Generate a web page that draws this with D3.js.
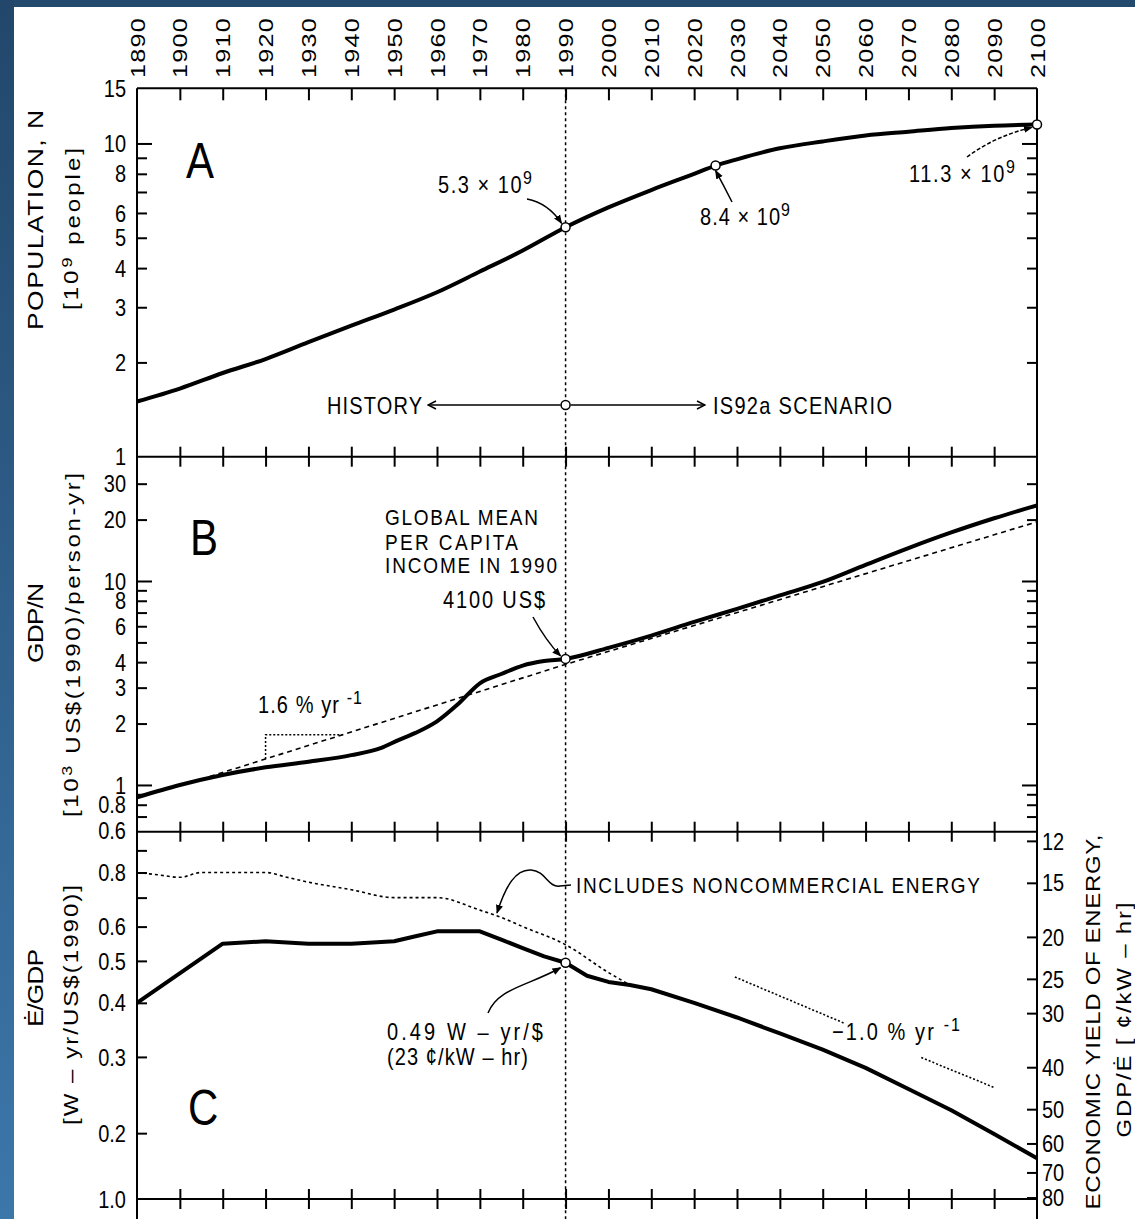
<!DOCTYPE html>
<html>
<head>
<meta charset="utf-8">
<script src="https://cdn.jsdelivr.net/npm/d3@7"></script>
<style>
html, body { margin: 0; padding: 0; background: #fff; }
svg { display: block; }
text { font-family: "Liberation Sans", Arial, sans-serif; fill: #000; }
</style>
</head>
<body>
<script>
const width = 1135;
const height = 1219;
const SY = 1.2; // the original figure is stretched vertically

// ---- data ----
const yearLabels = [1890, 1900, 1910, 1920, 1930, 1940, 1950, 1960, 1970, 1980, 1990,
    2000, 2010, 2020, 2030, 2040, 2050, 2060, 2070, 2080, 2090, 2100];

// A: population, 10^9 people
const popYears  = [1890, 1900, 1910, 1920, 1930, 1940, 1950, 1960, 1970, 1980, 1990, 2000,
    2010, 2020, 2025, 2030, 2040, 2050, 2060, 2070, 2080, 2090, 2100];
const popValues = [1.5, 1.65, 1.85, 2.05, 2.32, 2.62, 2.95, 3.35, 3.9, 4.55, 5.4, 6.25,
    7.1, 8.0, 8.5, 8.9, 9.65, 10.15, 10.6, 10.9, 11.2, 11.4, 11.5];
const popMarks = [1990, 2025, 2100];

// B: GDP per capita, 10^3 US$(1990)/person-yr
const gdpYears  = [1890, 1900, 1910, 1920, 1930, 1940, 1947, 1951, 1955, 1960, 1965, 1970,
    1975, 1980, 1985, 1990, 2000, 2010, 2020, 2030, 2040, 2050, 2060, 2070, 2080, 2090, 2100];
const gdpValues = [0.87, 1.0, 1.12, 1.22, 1.3, 1.4, 1.52, 1.66, 1.8, 2.05, 2.5, 3.15,
    3.5, 3.85, 4.05, 4.15, 4.7, 5.4, 6.3, 7.3, 8.5, 9.9, 12.0, 14.5, 17.3, 20.3, 23.5];
const gdpTrendYears  = [1907, 1990, 2100];
const gdpTrendValues = [1.1, 3.9, 19.5];
const slopeYears = [1920, 1938];

// C: energy intensity, W-yr/US$(1990)
const eYears  = [1890, 1910, 1920, 1930, 1940, 1950, 1955, 1960, 1970, 1975, 1980, 1985,
    1990, 1995, 2000, 2005, 2010, 2020, 2030, 2040, 2050, 2060, 2070, 2080, 2090, 2100];
const eValues = [0.40, 0.548, 0.555, 0.548, 0.548, 0.555, 0.57, 0.585, 0.585, 0.56, 0.535, 0.512,
    0.495, 0.462, 0.447, 0.44, 0.43, 0.40, 0.37, 0.34, 0.312, 0.283, 0.253, 0.226, 0.199, 0.175];
const ncYears  = [1890, 1895, 1900, 1905, 1910, 1920, 1925, 1930, 1940, 1950, 1960, 1970,
    1975, 1980, 1990, 2000, 2005];
const ncValues = [0.80, 0.79, 0.78, 0.80, 0.80, 0.80, 0.78, 0.76, 0.73, 0.70, 0.70, 0.655,
    0.63, 0.60, 0.545, 0.47, 0.44];
const cTrend1 = [[2029.5, 0.459], [2055, 0.359]];
const cTrend2 = [[2073, 0.299], [2090, 0.255]];

// tick values and labels
const popTicks = [2, 3, 4, 5, 6, 7, 8, 9, 10];
const popLabels = [1, 2, 3, 4, 5, 6, 8, 10, 15];
const gdpTicks = [0.7, 0.8, 0.9, 1, 2, 3, 4, 5, 6, 7, 8, 9, 10, 20, 30];
const gdpLabels = [0.6, 0.8, 1, 2, 3, 4, 6, 8, 10, 20, 30];
const eTicks = [0.2, 0.3, 0.4, 0.5, 0.6, 0.7, 0.8, 0.9];
const eLabels = [0.2, 0.3, 0.4, 0.5, 0.6, 0.8];
const yieldTicks = [12, 15, 20, 25, 30, 40, 50, 60, 70, 80];
const K = 11.36; // cents/kW-hr per (W-yr/$)^-1

// ---- scales ----
const left = 137, right = 1037;
const yTop = 88.3, yAB = 456.7, yBC = 831.7, yBot = 1199;
const x = d3.scaleLinear().domain([1890, 2100]).range([left, right]);
const yA = d3.scaleLog().domain([1, 15]).range([yAB, yTop]);
const yB = d3.scaleLog().domain([0.59, 40.68]).range([yBC, yAB]);
const yC = d3.scaleLog().domain([0.994, 0.1409]).range([yBC, yBot]);
const yR = d3.scaleLog().domain([K / 0.994, K / 0.1409]).range([yBC, yBot]);

const svg = d3.select("body").append("svg")
    .attr("width", width)
    .attr("height", height);

// background
const defs = svg.append("defs");
const grad = defs.append("linearGradient")
    .attr("id", "bandGrad").attr("x1", 0).attr("y1", 0).attr("x2", 0).attr("y2", 1);
grad.append("stop").attr("offset", "0%").attr("stop-color", "#22476b");
grad.append("stop").attr("offset", "100%").attr("stop-color", "#3c77aa");
svg.append("rect").attr("width", width).attr("height", height).attr("fill", "#fff");
svg.append("rect").attr("width", width).attr("height", 7).attr("fill", "#23496c");
svg.append("rect").attr("width", 14).attr("height", height).attr("fill", "url(#bandGrad)");

defs.append("marker").attr("id", "tri")
    .attr("viewBox", "0 0 10 10").attr("refX", 9).attr("refY", 5)
    .attr("markerWidth", 9).attr("markerHeight", 9).attr("orient", "auto")
    .attr("markerUnits", "userSpaceOnUse")
    .append("path").attr("d", "M0,1 L10,5 L0,9 Z").attr("fill", "#000");
defs.append("marker").attr("id", "vee")
    .attr("viewBox", "0 0 10 10").attr("refX", 9).attr("refY", 5)
    .attr("markerWidth", 10).attr("markerHeight", 10).attr("orient", "auto")
    .attr("markerUnits", "userSpaceOnUse")
    .append("path").attr("d", "M1,1 L9,5 L1,9").attr("fill", "none")
    .attr("stroke", "#000").attr("stroke-width", 1.5);

// ---- frame ----
const frame = svg.append("g").attr("stroke", "#000").attr("stroke-width", 2);
[yTop, yAB, yBC, yBot].forEach(yy => {
    frame.append("line").attr("x1", left).attr("x2", right).attr("y1", yy).attr("y2", yy);
});
frame.append("line").attr("x1", left).attr("x2", left).attr("y1", yTop).attr("y2", height);
frame.append("line").attr("x1", right).attr("x2", right).attr("y1", yTop).attr("y2", height);

// year ticks
const innerYears = yearLabels.slice(1, -1);
svg.append("g").attr("transform", `translate(0,${yTop})`)
    .call(d3.axisTop(x).tickValues(innerYears).tickFormat("").tickSize(-12));
[yAB, yBC, yBot].forEach(yy => {
    svg.append("g").attr("transform", `translate(0,${yy})`)
        .call(d3.axisTop(x).tickValues(innerYears).tickFormat("").tickSize(10));
    svg.append("g").attr("transform", `translate(0,${yy})`)
        .call(d3.axisBottom(x).tickValues(innerYears).tickFormat("").tickSize(10));
});
svg.selectAll(".domain").remove();
svg.selectAll(".tick line").attr("stroke", "#000").attr("stroke-width", 2);

// year labels
svg.append("g").selectAll("text")
    .data(yearLabels)
    .join("text")
    .attr("transform", d => `translate(${x(d)},78) scale(1,${SY}) rotate(-90)`)
    .attr("dy", "0.36em")
    .attr("font-size", 21)
    .attr("letter-spacing", 1)
    .text(d => d);

// y ticks
function yTicks(scale, side, ticks, longTicks) {
    const ax = (side === "left" ? d3.axisLeft(scale) : d3.axisRight(scale))
        .tickValues(ticks).tickFormat("").tickSize(-10);
    const g = svg.append("g")
        .attr("transform", `translate(${side === "left" ? left : right},0)`)
        .call(ax);
    g.select(".domain").remove();
    g.selectAll(".tick line").attr("stroke", "#000").attr("stroke-width", 2)
        .filter(d => longTicks.includes(d))
        .attr("x2", side === "left" ? 15 : -15);
}
yTicks(yA, "left", popTicks, [10]);
yTicks(yA, "right", popTicks, [10]);
yTicks(yB, "left", gdpTicks, [1, 10]);
yTicks(yB, "right", gdpTicks, [1, 10]);
yTicks(yC, "left", eTicks, []);
yTicks(yR, "right", yieldTicks, []);

function yLabels(scale, labels, fmt) {
    svg.append("g").selectAll("text")
        .data(labels)
        .join("text")
        .attr("transform", d => `translate(126,${scale(d)}) scale(1,${SY})`)
        .attr("text-anchor", "end")
        .attr("dy", "0.36em")
        .attr("font-size", 20)
        .text(fmt || (d => d));
}
yLabels(yA, popLabels);
yLabels(yB, gdpLabels);
yLabels(yC, eLabels, d3.format(".1f"));
// odd bottom label of the original
svg.append("text")
    .attr("transform", `translate(126,${yBot}) scale(1,${SY})`)
    .attr("text-anchor", "end").attr("dy", "0.36em").attr("font-size", 20)
    .text("1.0");

svg.append("g").selectAll("text")
    .data(yieldTicks)
    .join("text")
    .attr("transform", d => `translate(1042,${yR(d)}) scale(1,${SY})`)
    .attr("dy", "0.36em")
    .attr("font-size", 20)
    .text(d => d);

// 1990 divider
svg.append("line")
    .attr("x1", x(1990)).attr("x2", x(1990)).attr("y1", yTop).attr("y2", height)
    .attr("stroke", "#000").attr("stroke-width", 1.5).attr("stroke-dasharray", "3,3");

// ---- series ----
function drawLine(xs, ys, scale, opts) {
    const pts = xs.map((d, i) => [d, ys[i]]);
    const line = d3.line().x(d => x(d[0])).y(d => scale(d[1]))
        .curve(opts.curve || d3.curveMonotoneX);
    return svg.append("path").datum(pts)
        .attr("d", line)
        .attr("fill", "none")
        .attr("stroke", "#000")
        .attr("stroke-width", opts.width)
        .attr("stroke-dasharray", opts.dash || null)
        .attr("stroke-linejoin", "round");
}

drawLine(popYears, popValues, yA, {width: 4});
drawLine(gdpTrendYears, gdpTrendValues, yB, {width: 1.6, dash: "5,4", curve: d3.curveLinear});
drawLine(gdpYears, gdpValues, yB, {width: 4});
drawLine(ncYears, ncValues, yC, {width: 1.6, dash: "3,3"});
drawLine(eYears, eValues, yC, {width: 4, curve: d3.curveLinear});
[cTrend1, cTrend2].forEach(seg => {
    drawLine(seg.map(d => d[0]), seg.map(d => d[1]), yC,
        {width: 1.6, dash: "2,2", curve: d3.curveLinear});
});

// slope triangle for the 1.6 %/yr trend
function trendAt(yr) {
    const i = d3.bisectRight(gdpTrendYears, yr) - 1;
    const t = (yr - gdpTrendYears[i]) / (gdpTrendYears[i + 1] - gdpTrendYears[i]);
    return Math.exp(Math.log(gdpTrendValues[i]) * (1 - t) + Math.log(gdpTrendValues[i + 1]) * t);
}
const s0 = slopeYears[0], s1 = slopeYears[1];
svg.append("path")
    .attr("d", `M${x(s0)},${yB(trendAt(s0))} L${x(s0)},${yB(trendAt(s1))} L${x(s1)},${yB(trendAt(s1))}`)
    .attr("fill", "none").attr("stroke", "#000").attr("stroke-width", 1.5)
    .attr("stroke-dasharray", "2,2");

// ---- markers ----
function mark(px, py) {
    svg.append("circle").attr("cx", px).attr("cy", py).attr("r", 4.5)
        .attr("fill", "#fff").attr("stroke", "#000").attr("stroke-width", 1.5);
}
popMarks.forEach(yr => mark(x(yr), yA(popValues[popYears.indexOf(yr)])));
mark(x(1990), yB(gdpValues[gdpYears.indexOf(1990)]));
mark(x(1990), yC(eValues[eYears.indexOf(1990)]));

// ---- annotations ----
function fit(t, len) {
    if (len) t.attr("textLength", len).attr("lengthAdjust", "spacing");
    return t;
}
function label(str, px, py, size, len, anchor) {
    const t = svg.append("text")
        .attr("transform", `translate(${px},${py}) scale(1,${SY})`)
        .attr("font-size", size)
        .attr("text-anchor", anchor || "start")
        .text(str);
    return fit(t, len);
}
function labelPow(base, exp, px, py, size, len) {
    const t = svg.append("text")
        .attr("transform", `translate(${px},${py}) scale(1,${SY})`)
        .attr("font-size", size);
    t.append("tspan").text(base);
    t.append("tspan").attr("dy", "-0.45em").attr("font-size", size * 0.8).text(exp);
    return fit(t, len);
}
function arrow(d, marker, dash) {
    svg.append("path").attr("d", d).attr("fill", "none")
        .attr("stroke", "#000").attr("stroke-width", 1.5)
        .attr("stroke-dasharray", dash || null)
        .attr("marker-end", `url(#${marker || "tri"})`);
}

const x90 = x(1990);
// panel A
label("A", 186, 178, 42);
labelPow("5.3 × 10", "9", 438, 193, 20, 94);
arrow(`M527,199 Q548,203 ${x90 - 4},${yA(5.4) - 4}`);
labelPow("8.4 × 10", "9", 700, 225, 20, 90);
arrow(`M732,202 Q724,186 ${x(2025)},${yA(8.5) + 5}`);
labelPow("11.3 × 10", "9", 909, 182, 20, 106);
arrow(`M967,157 Q995,136 ${x(2100) - 5},${yA(11.5) + 3}`, "tri", "4,2");

const yHist = 405;
label("HISTORY", 327, 414, 20, 95);
arrow(`M${x90 - 5},${yHist} L428,${yHist}`, "vee");
arrow(`M${x90 + 5},${yHist} L705,${yHist}`, "vee");
mark(x90, yHist);
label("IS92a SCENARIO", 713, 414, 20, 179);

// panel B
label("B", 190, 555, 42);
label("GLOBAL MEAN", 385, 525, 19, 153);
label("PER CAPITA", 385, 550, 19, 133);
label("INCOME IN 1990", 385, 573, 19, 172);
label("4100 US$", 443, 608, 20, 102);
arrow(`M533,617 Q546,641 ${x90 - 5},${yB(4.15) - 3}`);
labelPow("1.6 % yr ", "-1", 258, 713, 20, 104);

// panel C
label("C", 188, 1125, 42);
label("INCLUDES NONCOMMERCIAL ENERGY", 576, 893, 19, 404);
arrow("M571,885 L560,886 C548,888 546,871 531,870 C516,869 506,885 497,913");
label("0.49 W – yr/$", 387, 1040, 20, 156);
label("(23 ¢/kW – hr)", 387, 1065, 20, 141);
arrow(`M488,1013 C498,988 528,986 ${x90 - 5},${yC(0.495) + 5}`);
labelPow("−1.0 % yr ", "-1", 832, 1040, 20, 128);

// ---- axis titles ----
function vTitle(cx, cy, size, len) {
    const t = svg.append("text")
        .attr("transform", `translate(${cx},${cy}) scale(1,${SY}) rotate(-90)`)
        .attr("text-anchor", "middle")
        .attr("dy", "0.36em")
        .attr("font-size", size);
    return fit(t, len / SY);
}
vTitle(35, 220, 22, 220).text("POPULATION, N");
const pt = vTitle(71, 229, 20, 162);
pt.append("tspan").text("[10");
pt.append("tspan").attr("dy", "-0.4em").attr("font-size", 15).text("9");
pt.append("tspan").attr("dy", "0.4em").text(" people]");

vTitle(35, 623, 22, 80).text("GDP/N");
const gt = vTitle(71, 645, 20, 344);
gt.append("tspan").text("[10");
gt.append("tspan").attr("dy", "-0.4em").attr("font-size", 15).text("3");
gt.append("tspan").attr("dy", "0.4em").text(" US$(1990)/person-yr]");

vTitle(35, 988, 22, 78).text("Ė/GDP");
vTitle(71, 1005, 20, 240).text("[W – yr/US$(1990)]");

vTitle(1093, 1022, 20, 375).text("ECONOMIC YIELD OF ENERGY,");
vTitle(1124, 1020, 20, 235).text("GDP/Ė [ ¢/kW – hr]");
</script>
</body>
</html>
